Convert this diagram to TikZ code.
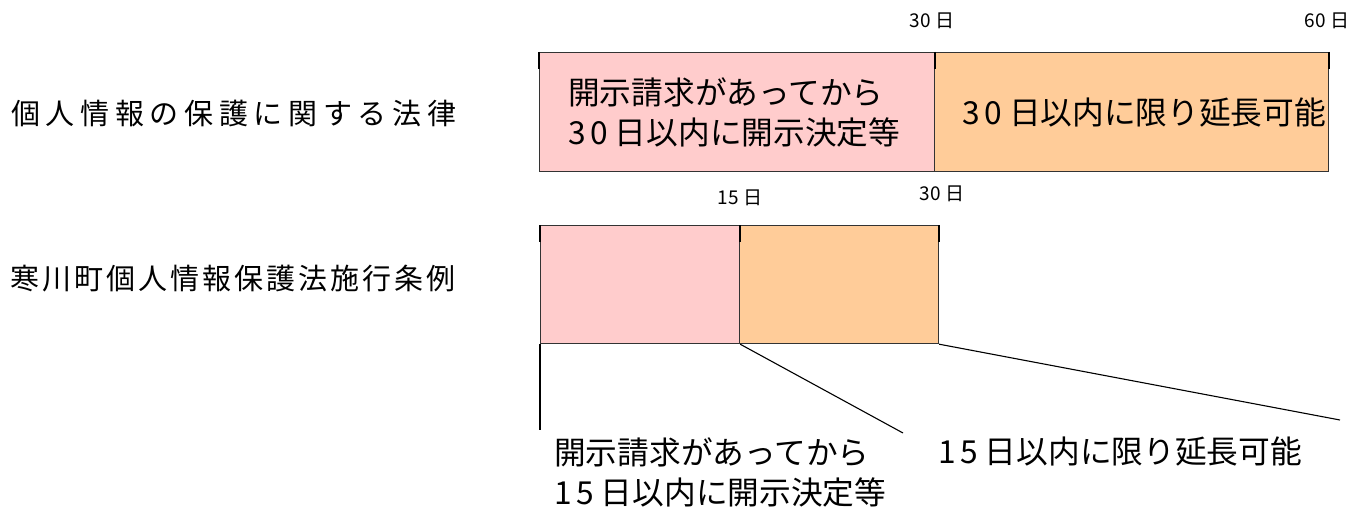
\documentclass[tikz,border=0pt]{standalone}
\usepackage{fontspec}
\newfontfamily\jp{Noto Sans CJK JP}
\newcommand{\dg}[1]{{\addfontfeature{LetterSpace=14}#1}}
\definecolor{pinkfill}{HTML}{FFCCCC}
\definecolor{orangefill}{HTML}{FFCC99}
\begin{document}
\begin{tikzpicture}[x=1pt,y=-1pt,
  bar/.style={draw=black!80, line width=1.2pt, anchor=north west, inner sep=0pt},
  pinkbar/.style={bar, fill=pinkfill},
  orangebar/.style={bar, fill=orangefill},
  tick/.style={line width=2pt},
  thin/.style={line width=1.1pt},
  daylbl/.style={font=\jp\fontsize{19}{20}\selectfont, inner sep=0pt},
  big/.style={font=\jp\fontsize{31.7}{40}\selectfont, inner sep=0pt},
  side/.style={font=\jp\fontsize{29}{32}\selectfont, inner sep=0pt, anchor=west}
]
\useasboundingbox (0,0) rectangle (1355,511);

% left labels
\node[side] (law) at (11,113) {\makebox[445pt][s]{個\hfill 人\hfill 情\hfill 報\hfill の\hfill 保\hfill 護\hfill に\hfill 関\hfill す\hfill る\hfill 法\hfill 律}};
\node[side] (ord) at (10,279) {\makebox[445pt][s]{寒\hfill 川\hfill 町\hfill 個\hfill 人\hfill 情\hfill 報\hfill 保\hfill 護\hfill 法\hfill 施\hfill 行\hfill 条\hfill 例}};

% top bar
\node[pinkbar, minimum width=395pt, minimum height=119pt] (p1) at (539,52) {};
\node[orangebar, minimum width=394pt, minimum height=119pt] (o1) at (934,52) {};
\node[big, align=left, anchor=west] (t1) at ([xshift=29pt]p1.west) {開示請求があってから\\\dg{30} 日以内に開示決定等};
\node[big, anchor=east] (t2) at ([xshift=-3pt]o1.east) {\dg{30} 日以内に限り延長可能};

\coordinate (k1) at ([yshift=-17pt]p1.north west);
\coordinate (k2) at ([yshift=-17pt]p1.north east);
\coordinate (k3) at ([yshift=-17pt]o1.north east);
\draw[tick] (p1.north west) -- (k1);
\draw[tick] (p1.north east) -- (k2);
\draw[tick] (o1.north east) -- (k3);
\node[daylbl] (d30a) at (932,21) {30 日};
\node[daylbl] (d60) at (1327,21) {60 日};

% bottom bar
\node[pinkbar, minimum width=199pt, minimum height=118pt] (p2) at (540,225) {};
\node[orangebar, minimum width=199pt, minimum height=118pt] (o2) at (739,225) {};

\coordinate (m1) at ([yshift=-17pt]p2.north west);
\coordinate (m2) at ([yshift=-17pt]p2.north east);
\coordinate (m3) at ([yshift=-17pt]o2.north east);
\draw[tick] (p2.north west) -- (m1);
\draw[tick] (p2.north east) -- (m2);
\draw[tick] (o2.north east) -- (m3);
\node[daylbl] (d15) at (740,198) {15 日};
\node[daylbl] (d30b) at (942,194) {30 日};

% leader lines
\coordinate (e1) at (540,430);
\coordinate (e2) at (903,433);
\coordinate (e3) at (1340,420);
\draw[thin] (p2.south west) -- (e1);
\draw[thin] (p2.south east) -- (e2);
\draw[thin] (o2.south east) -- (e3);

% bottom texts
\node[big, anchor=west] (b1) at (554,452) {開示請求があってから};
\node[big, anchor=west] (b2) at (554,492) {\dg{15} 日以内に開示決定等};
\node[big, anchor=west] (b3) at (938,452) {\dg{15} 日以内に限り延長可能};
\end{tikzpicture}
\end{document}
